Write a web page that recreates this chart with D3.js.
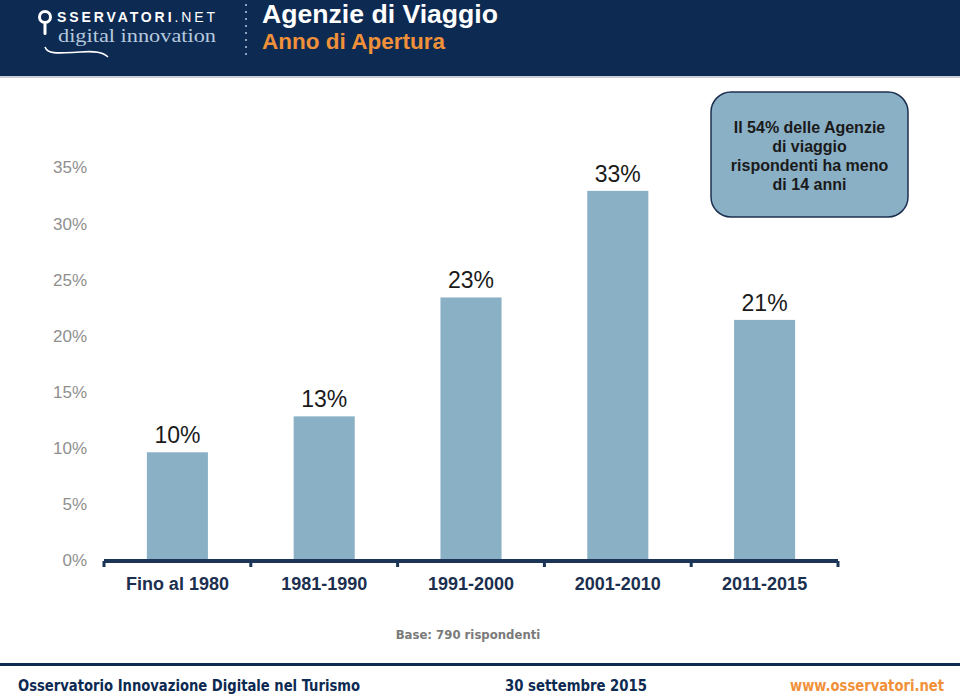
<!DOCTYPE html>
<html><head><meta charset="utf-8">
<script src="https://cdn.jsdelivr.net/npm/d3@7/dist/d3.min.js"></script>
<style>
html,body{margin:0;padding:0;background:#fff;}
svg{display:block;}
</style></head>
<body>
<svg id="chart" width="960" height="697"></svg>
<script>
const categories = ["Fino al 1980", "1981-1990", "1991-2000", "2001-2010", "2011-2015"];
const values = [9.6, 12.8, 23.4, 32.9, 21.4];
const yTicks = [0, 5, 10, 15, 20, 25, 30, 35];
const title = "Agenzie di Viaggio";
const subtitle = "Anno di Apertura";
const calloutLines = ["Il 54% delle Agenzie", "di viaggio", "rispondenti ha meno", "di 14 anni"];
const baseNote = "Base: 790 rispondenti";
const footerLeft = "Osservatorio Innovazione Digitale nel Turismo";
const footerMid = "30 settembre 2015";
const footerRight = "www.osservatori.net";

const svg = d3.select("#chart");
const NAVY = "#0d2a52";
const AXIS = "#1c3557";
const BAR = "#8ab0c6";

// Header
svg.append("rect").attr("x",0).attr("y",0).attr("width",960).attr("height",76).attr("fill",NAVY);
svg.append("rect").attr("x",0).attr("y",76).attr("width",960).attr("height",2).attr("fill","#c9d0d8");

// Logo
const logo = svg.append("g");
logo.append("circle").attr("cx",45).attr("cy",17).attr("r",5.5).attr("fill","none").attr("stroke","#fff").attr("stroke-width",3);
logo.append("rect").attr("x",43.5).attr("y",23).attr("width",3).attr("height",12).attr("rx",1.5).attr("fill","#fff");
const lt = logo.append("text").attr("x",57).attr("y",22).attr("fill","#fff")
  .attr("font-family","Liberation Sans, Arial, sans-serif").attr("font-size",14)
  .attr("textLength",158).attr("lengthAdjust","spacing");
lt.append("tspan").attr("font-weight","bold").text("SSERVATORI");
lt.append("tspan").text(".NET");
logo.append("text").attr("x",58).attr("y",42).attr("fill","#b7c9de")
  .attr("font-family","Liberation Serif, DejaVu Serif, serif").attr("font-size",19)
  .attr("textLength",158).attr("lengthAdjust","spacingAndGlyphs").text("digital innovation");
logo.append("path").attr("d","M45,47 C48,55 60,53 80,52 C95,51 103,52 108,57")
  .attr("fill","none").attr("stroke","#fff").attr("stroke-width",1.6);

// dotted separator
svg.append("line").attr("x1",246).attr("x2",246).attr("y1",4).attr("y2",60)
  .attr("stroke","#8fa3c0").attr("stroke-width",2).attr("stroke-dasharray","2,5");

svg.append("text").attr("x",262).attr("y",23).attr("fill","#fff")
  .attr("font-family","Liberation Sans, Arial, sans-serif").attr("font-weight","bold").attr("font-size",25)
  .attr("textLength",236).attr("lengthAdjust","spacingAndGlyphs")
  .text(title);
svg.append("text").attr("x",262).attr("y",49).attr("fill","#f0913a")
  .attr("font-family","Liberation Sans, Arial, sans-serif").attr("font-weight","bold").attr("font-size",22.5)
  .text(subtitle);

// Scales
const x = d3.scaleBand().domain(categories).range([104, 838]).paddingInner(0.584).paddingOuter(0.292);
const y = d3.scaleLinear().domain([0, 35]).range([560, 167.3]);

// Y tick labels
svg.append("g").selectAll("text").data(yTicks).join("text")
  .attr("x", 87).attr("y", d => y(d)).attr("dy","0.36em").attr("text-anchor","end")
  .attr("fill","#8f8f8f").attr("font-family","Liberation Sans, Arial, sans-serif").attr("font-size",17)
  .text(d => d + "%");

// Bars
svg.append("g").selectAll("rect").data(values).join("rect")
  .attr("x",(d,i)=>x(categories[i])).attr("width",x.bandwidth())
  .attr("y",d=>y(d)).attr("height",d=>y(0)-y(d)).attr("fill",BAR);

// Value labels
const fmt = d3.format(".0f");
svg.append("g").selectAll("text").data(values).join("text")
  .attr("x",(d,i)=>x(categories[i])+x.bandwidth()/2).attr("y",d=>y(d)-9)
  .attr("text-anchor","middle").attr("fill","#1a1a1a")
  .attr("font-family","Liberation Sans, Arial, sans-serif").attr("font-size",23)
  .text(d => fmt(d) + "%");

// X axis
const axisY = 561;
const gap = (x.step() - x.bandwidth())/2;
const bounds = categories.map(c => x(c) - gap).concat([x.range()[1]]);
svg.append("line").attr("x1",x.range()[0]).attr("x2",x.range()[1]).attr("y1",axisY).attr("y2",axisY)
  .attr("stroke",AXIS).attr("stroke-width",4);
svg.append("g").selectAll("line").data(bounds).join("line")
  .attr("x1",d=>d).attr("x2",d=>d).attr("y1",axisY).attr("y2",axisY+6)
  .attr("stroke",AXIS).attr("stroke-width",3);

const xAxis = svg.append("g").attr("transform",`translate(0,${axisY})`)
  .call(d3.axisBottom(x).tickSize(0).tickPadding(16));
xAxis.select(".domain").remove();
xAxis.selectAll("text").attr("fill","#1c2f4f").attr("font-family","Liberation Sans, Arial, sans-serif")
  .attr("font-size",18).attr("font-weight","bold");

// Callout
svg.append("rect").attr("x",711).attr("y",92).attr("width",197).attr("height",125).attr("rx",20)
  .attr("fill","#8ab0c6").attr("stroke","#1c2f4f").attr("stroke-width",1.5);
svg.append("g").selectAll("text").data(calloutLines).join("text")
  .attr("x",809.5).attr("y",(d,i)=>133+i*19).attr("text-anchor","middle")
  .attr("fill","#1a1a1a").attr("font-family","Liberation Sans, Arial, sans-serif")
  .attr("font-size",16).attr("font-weight","bold").text(d=>d);

// Base note
svg.append("text").attr("x",468).attr("y",639).attr("text-anchor","middle").attr("fill","#7a7a7a")
  .attr("font-family","DejaVu Sans Condensed, Liberation Sans Narrow, sans-serif").attr("font-weight","bold").attr("font-size",13)
  .text(baseNote);

// Footer
svg.append("rect").attr("x",0).attr("y",663).attr("width",960).attr("height",3).attr("fill",NAVY);
const ff = "DejaVu Sans Condensed, Liberation Sans Narrow, sans-serif";
svg.append("text").attr("x",18).attr("y",691).attr("fill",NAVY).attr("font-family",ff).attr("font-size",16).attr("font-weight","bold")
  .attr("textLength",342).attr("lengthAdjust","spacingAndGlyphs").text(footerLeft);
svg.append("text").attr("x",505).attr("y",691).attr("fill",NAVY).attr("font-family",ff).attr("font-size",16).attr("font-weight","bold")
  .attr("textLength",142).attr("lengthAdjust","spacingAndGlyphs").text(footerMid);
svg.append("text").attr("x",790).attr("y",691).attr("fill","#f0913a").attr("font-family",ff).attr("font-size",16).attr("font-weight","bold")
  .attr("textLength",154).attr("lengthAdjust","spacingAndGlyphs").text(footerRight);
</script>
</body></html>
